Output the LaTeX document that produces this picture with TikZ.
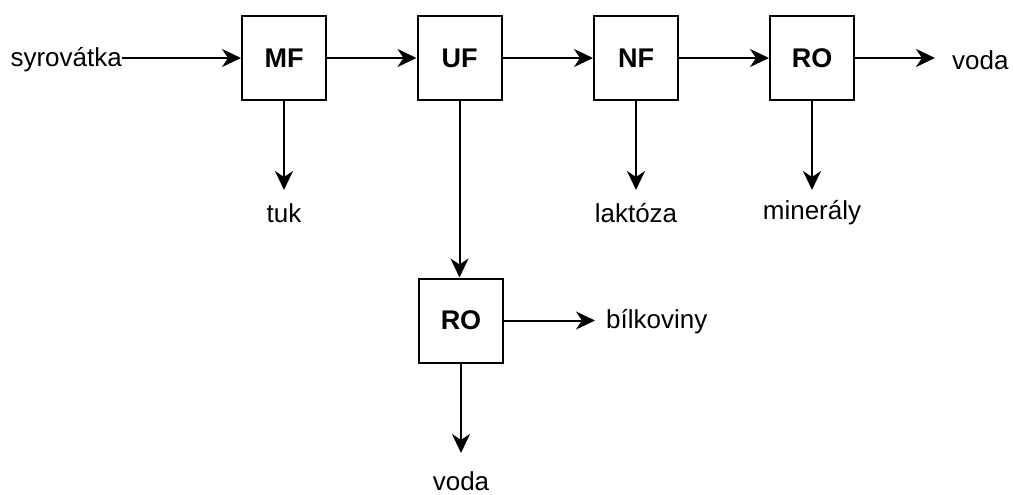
\documentclass[tikz,border=0pt]{standalone}
\usepackage{fontspec}
\setmainfont{Liberation Sans}
\usetikzlibrary{arrows.meta}
\begin{document}
\begin{tikzpicture}[x=1pt,y=-1pt,
  box/.style={draw, line width=2pt, minimum width=84pt, minimum height=84pt, inner sep=0pt, font=\fontsize{27}{30}\selectfont\bfseries},
  lbl/.style={inner sep=0pt, font=\fontsize{26}{30}\selectfont},
  flow/.style={line width=2pt, -{Stealth[length=19pt,width=18pt,inset=6pt]}}]
\useasboundingbox (0,0) rectangle (1013,495);
\node[box] (mf) at (284,58) {MF};
\node[box] (uf) at (459.5,58) {UF};
\node[box] (nf) at (636,58) {NF};
\node[box] (ro1) at (812,58) {RO};
\node[box] (ro2) at (461,320.5) {RO};
\node[lbl, anchor=east] (in) at (122,60) {syrovátka};
\node[lbl, anchor=west] (voda1) at (952,60) {voda};
\node[lbl] (tuk) at (284,213) {tuk};
\node[lbl] (lak) at (636,213) {laktóza};
\node[lbl] (min) at (812,213) {minerály};
\node[lbl, anchor=west] (bil) at (606,322) {bílkoviny};
\node[lbl] (voda2) at (461,481) {voda};
\coordinate (e1) at (935,58);
\coordinate (e2) at (284,190);
\coordinate (e3) at (636,190);
\coordinate (e4) at (812,190);
\coordinate (e5) at (595,320.5);
\coordinate (e6) at (461,453);
\draw[flow] (in.east |- mf) -- (mf.west);
\draw[flow] (mf) -- (uf);
\draw[flow] (uf) -- (nf);
\draw[flow] (nf) -- (ro1);
\draw[flow] (ro1) -- (e1);
\draw[flow] (mf) -- (e2);
\draw[flow] (nf) -- (e3);
\draw[flow] (ro1) -- (e4);
\draw[flow] (uf.south) -- (uf.south |- ro2.north);
\draw[flow] (ro2) -- (e5);
\draw[flow] (ro2) -- (e6);
\end{tikzpicture}
\end{document}
